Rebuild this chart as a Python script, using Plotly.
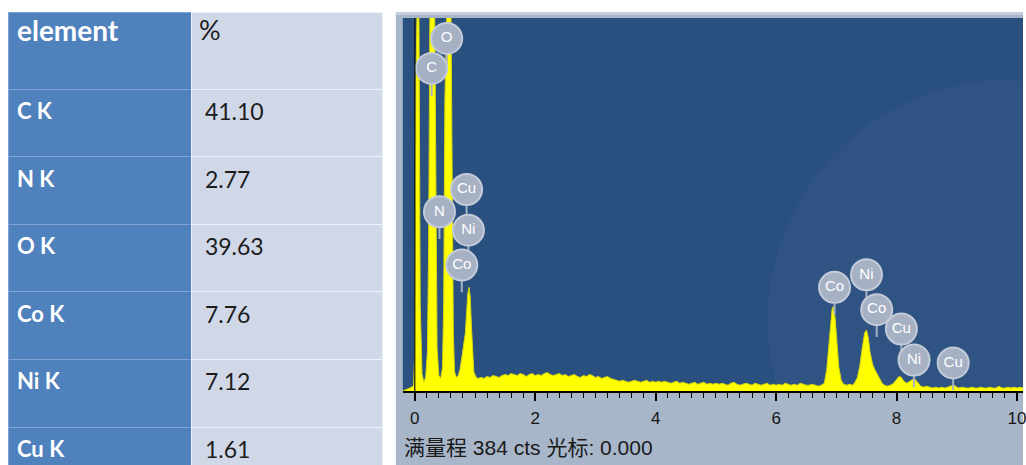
import plotly.graph_objects as go

W, H = 1026, 465

# ---- composition table -------------------------------------------------
table_header = ["element", "%"]
elements = ["C K", "N K", "O K", "Co K", "Ni K", "Cu K"]
percent = ["41.10", "2.77", "39.63", "7.76", "7.12", "1.61"]

# ---- EDS spectrum: channel energy (keV) and counts ----------------------
energy_kev = [
    -0.20, -0.05, -0.02, 0.00, 0.02, 0.03, 0.05, 0.07, 0.09, 0.12,
    0.15, 0.18, 0.21, 0.23, 0.25, 0.27, 0.30, 0.33, 0.35, 0.37,
    0.40, 0.43, 0.46, 0.48, 0.50, 0.52, 0.56, 0.60, 0.62, 0.64,
    0.66, 0.69, 0.72, 0.75, 0.78, 0.81, 0.84, 0.86, 0.88, 0.90,
    0.92, 0.94, 0.96, 0.98, 1.01,
    1.05, 1.10, 1.15, 1.20, 1.25, 1.30, 1.35, 1.40, 1.45, 1.50,
    1.55, 1.60, 1.65, 1.70, 1.75, 1.80, 1.85, 1.90, 1.95, 2.00,
    2.05, 2.10, 2.15, 2.20, 2.25, 2.30, 2.35, 2.40, 2.45, 2.50,
    2.55, 2.60, 2.65, 2.70, 2.75, 2.80, 2.85, 2.90, 2.95, 3.00,
    3.05, 3.10, 3.15, 3.20, 3.25, 3.30, 3.35, 3.40, 3.45, 3.50,
    3.55, 3.60, 3.65, 3.70, 3.75, 3.80, 3.85, 3.90, 3.95, 4.00,
    4.05, 4.10, 4.15, 4.20, 4.25, 4.30, 4.35, 4.40, 4.45, 4.50,
    4.55, 4.60, 4.65, 4.70, 4.75, 4.80, 4.85, 4.90, 4.95, 5.00,
    5.05, 5.10, 5.15, 5.20, 5.25, 5.30, 5.35, 5.40, 5.45, 5.50,
    5.55, 5.60, 5.65, 5.70, 5.75, 5.80, 5.85, 5.90, 5.95, 6.00,
    6.05, 6.10, 6.15, 6.20, 6.25, 6.30, 6.35, 6.40, 6.45, 6.50,
    6.55, 6.60, 6.65, 6.70, 6.75,
    6.80, 6.84, 6.87, 6.90, 6.93, 6.95, 6.98, 7.01, 7.04, 7.08,
    7.12, 7.17, 7.22, 7.27, 7.31,
    7.35, 7.39, 7.43, 7.47, 7.50, 7.53, 7.56, 7.60, 7.64, 7.68,
    7.72, 7.76, 7.80, 7.85, 7.90, 7.95,
    8.00, 8.04, 8.08, 8.12, 8.17, 8.22, 8.27, 8.31, 8.35, 8.40,
    8.45, 8.50, 8.55, 8.60, 8.65, 8.70, 8.75, 8.80, 8.85, 8.90,
    8.94, 8.98, 9.02, 9.10, 9.15, 9.20, 9.25, 9.30, 9.35, 9.40,
    9.45, 9.50, 9.55, 9.60, 9.65, 9.70, 9.75, 9.80, 9.85, 9.90,
    9.95, 10.00, 10.05, 10.10, 10.15,
]
counts = [
    0, 4, 6, 40, 330, 420, 430, 380, 90, 18,
    9, 14, 40, 150, 380, 460, 470, 400, 160, 45,
    16, 13, 24, 90, 300, 440, 470, 400, 200, 60,
    20, 14, 16, 22, 34, 48, 60, 80, 100, 107,
    97, 68, 38, 20, 15,
    13, 14, 13, 15, 14, 16, 15, 14, 16, 17,
    16, 18, 17, 16, 18, 17, 15, 17, 18, 16,
    17, 16, 18, 19, 17, 16, 17, 18, 16, 17,
    15, 16, 17, 15, 14, 16, 15, 17, 16, 14,
    15, 13, 14, 15, 13, 12, 11, 10, 11, 10,
    9, 10, 11, 10, 9, 10, 11, 9, 10, 9,
    10, 9, 10, 9, 8, 9, 10, 8, 9, 8,
    7, 8, 9, 7, 8, 9, 7, 8, 7, 8,
    7, 8, 7, 6, 8, 9, 7, 6, 7, 8,
    7, 6, 8, 7, 6, 7, 8, 6, 7, 6,
    7, 6, 8, 7, 6, 7, 6, 8, 7, 6,
    6, 7, 6, 5, 6,
    8, 22, 45, 70, 85, 87, 75, 50, 25, 11,
    7, 6, 7, 6, 9,
    14, 26, 44, 60, 63, 55, 40, 28, 22, 17,
    12, 8, 6, 5, 6, 8,
    12, 15, 14, 10, 8, 10, 12, 12, 9, 5,
    4, 5, 4, 3, 4, 3, 4, 3, 4, 5,
    6, 5, 3, 4, 3, 3, 4, 3, 3, 4,
    3, 3, 4, 3, 3, 5, 3, 3, 4, 3,
    4, 3, 4, 3, 3,
]

full_scale_cts = 384
cursor_kev = 0.000
tick_vals = [0, 2, 4, 6, 8, 10]

# peak identification badges
badge_text = ["O", "C", "Cu", "N", "Ni", "Co", "Co", "Ni", "Co", "Cu", "Ni", "Cu"]
badge_kev = [0.53, 0.28, 0.86, 0.41, 0.89, 0.78, 6.97, 7.50, 7.67, 8.08, 8.29, 8.94]
badge_cts = [364, 333, 208, 185, 166, 130, 107, 120, 84, 64, 32, 29]

# ---- geometry (pixels) ---------------------------------------------------
PX_PER_KEV = 60.4
ZERO_PX = 416            # x pixel of 0 keV
PLOT_LEFT, PLOT_TOP, PLOT_BOTTOM = 404, 18, 391
FRAME_LEFT, FRAME_TOP = 397, 12
TAB_LEFT, TAB_SPLIT, TAB_RIGHT, TAB_TOP = 9, 192, 385, 12

x_range = [(PLOT_LEFT - ZERO_PX) / PX_PER_KEV, (W - ZERO_PX) / PX_PER_KEV]
y_top = full_scale_cts * (PLOT_BOTTOM - PLOT_TOP) / (PLOT_BOTTOM - PLOT_TOP - 1)
cts_per_px = y_top / (PLOT_BOTTOM - PLOT_TOP)


def kev_at(px):
    return (px - ZERO_PX) / PX_PER_KEV


def cts_at(py):
    return (PLOT_BOTTOM - py) * cts_per_px


BLUE_COL = "#4f81bd"
LIGHT_COL = "#d0d8e8"
BADGE = "#a6b1c4"
NBSP = "\u00a0"

fig = go.Figure()

fig.add_trace(go.Table(
    domain=dict(x=[TAB_LEFT / W, TAB_RIGHT / W], y=[0, 1 - TAB_TOP / H]),
    columnwidth=[TAB_SPLIT - TAB_LEFT, TAB_RIGHT - TAB_SPLIT],
    header=dict(
        values=table_header,
        height=77,
        align="left",
        fill_color=[BLUE_COL, LIGHT_COL],
        line=dict(color=["#7fa1d1", "#eef1f7"], width=1),
        font=dict(family="Lato", size=[28, 27], color=["white", "#1c1c1c"],
                  weight=["bold", "normal"]),
    ),
    cells=dict(
        values=[[f"<b>{e}</b>" for e in elements],
                [f"<span>{NBSP}{p}</span>" for p in percent]],
        height=67.6,
        align="left",
        fill_color=[BLUE_COL, LIGHT_COL],
        line=dict(color=["#7fa1d1", "#eef1f7"], width=1),
        font=dict(family="Lato", size=[22, 23], color=["white", "#1c1c1c"]),
    ),
))

fig.add_trace(go.Scatter(
    x=energy_kev, y=counts, mode="lines", fill="tozeroy",
    fillcolor="#ffff00", line=dict(color="#d6d60c", width=1),
    hoverinfo="skip", showlegend=False,
))

# badge stems then badges
stem_offset = 21 * cts_per_px
fig.add_trace(go.Scatter(
    x=badge_kev, y=[c - stem_offset for c in badge_cts], mode="markers",
    marker=dict(symbol="line-ns", size=9, line=dict(color=BADGE, width=2)),
    hoverinfo="skip", showlegend=False,
))
fig.add_trace(go.Scatter(
    x=badge_kev, y=badge_cts, mode="markers+text", text=badge_text,
    textposition="middle center",
    textfont=dict(family="Liberation Sans", size=15, color="white"),
    marker=dict(symbol="circle", size=31, color=BADGE,
                line=dict(color="#c3cbd8", width=2)),
    hoverinfo="skip", showlegend=False,
))

shapes = [
    # instrument window frame
    dict(type="rect", xref="paper", yref="paper", layer="below",
         x0=FRAME_LEFT / W, x1=1, y0=0, y1=1 - FRAME_TOP / H,
         fillcolor="#a8b6ca", line=dict(width=0)),
    dict(type="rect", xref="paper", yref="paper", layer="below",
         x0=FRAME_LEFT / W, x1=1, y0=1 - (FRAME_TOP + 3) / H, y1=1 - FRAME_TOP / H,
         fillcolor="#c4cdd9", line=dict(width=0)),
    # spectrum panel
    dict(type="rect", xref="x domain", yref="y domain", layer="below",
         x0=0, x1=1, y0=0, y1=1, fillcolor="#2a5080", line=dict(width=0)),
    # faint desktop swirl behind the spectrum
    dict(type="circle", xref="x", yref="y", layer="below",
         x0=kev_at(770), x1=kev_at(1250), y0=cts_at(560), y1=cts_at(80),
         fillcolor="rgba(255,255,255,0.022)", line=dict(width=0)),
    # cursor
    dict(type="line", xref="x", yref="y domain", layer="above",
         x0=cursor_kev, x1=cursor_kev, y0=0, y1=1,
         line=dict(color="#111111", width=1.2)),
]

fig.update_layout(
    width=W, height=H,
    margin=dict(l=0, r=0, t=0, b=0),
    paper_bgcolor="white",
    plot_bgcolor="rgba(0,0,0,0)",
    showlegend=False,
    shapes=shapes,
    xaxis=dict(
        domain=[PLOT_LEFT / W, 1], range=x_range,
        showgrid=False, zeroline=False,
        showline=True, linecolor="black", linewidth=2,
        ticks="outside", ticklen=8, tickwidth=1.5, tickcolor="black",
        tickvals=tick_vals, ticklabelstandoff=3,
        ticklabeloverflow="allow",
        tickfont=dict(family="Liberation Sans", size=17, color="#151515"),
        minor=dict(dtick=0.2, tick0=0, ticks="outside", ticklen=5,
                   tickwidth=1, tickcolor="black"),
    ),
    yaxis=dict(
        domain=[1 - PLOT_BOTTOM / H, 1 - PLOT_TOP / H], range=[0, y_top],
        visible=False, showgrid=False, zeroline=False,
    ),
    annotations=[dict(
        xref="paper", yref="paper", x=403 / W, y=1 - 447 / H,
        xanchor="left", yanchor="middle", showarrow=False,
        text=f"满量程 {full_scale_cts} cts 光标: {cursor_kev:.3f}",
        font=dict(family="Liberation Sans, Noto Sans CJK SC", size=21, color="#1a1a1a"),
    )],
)

fig.write_html("out.html")
